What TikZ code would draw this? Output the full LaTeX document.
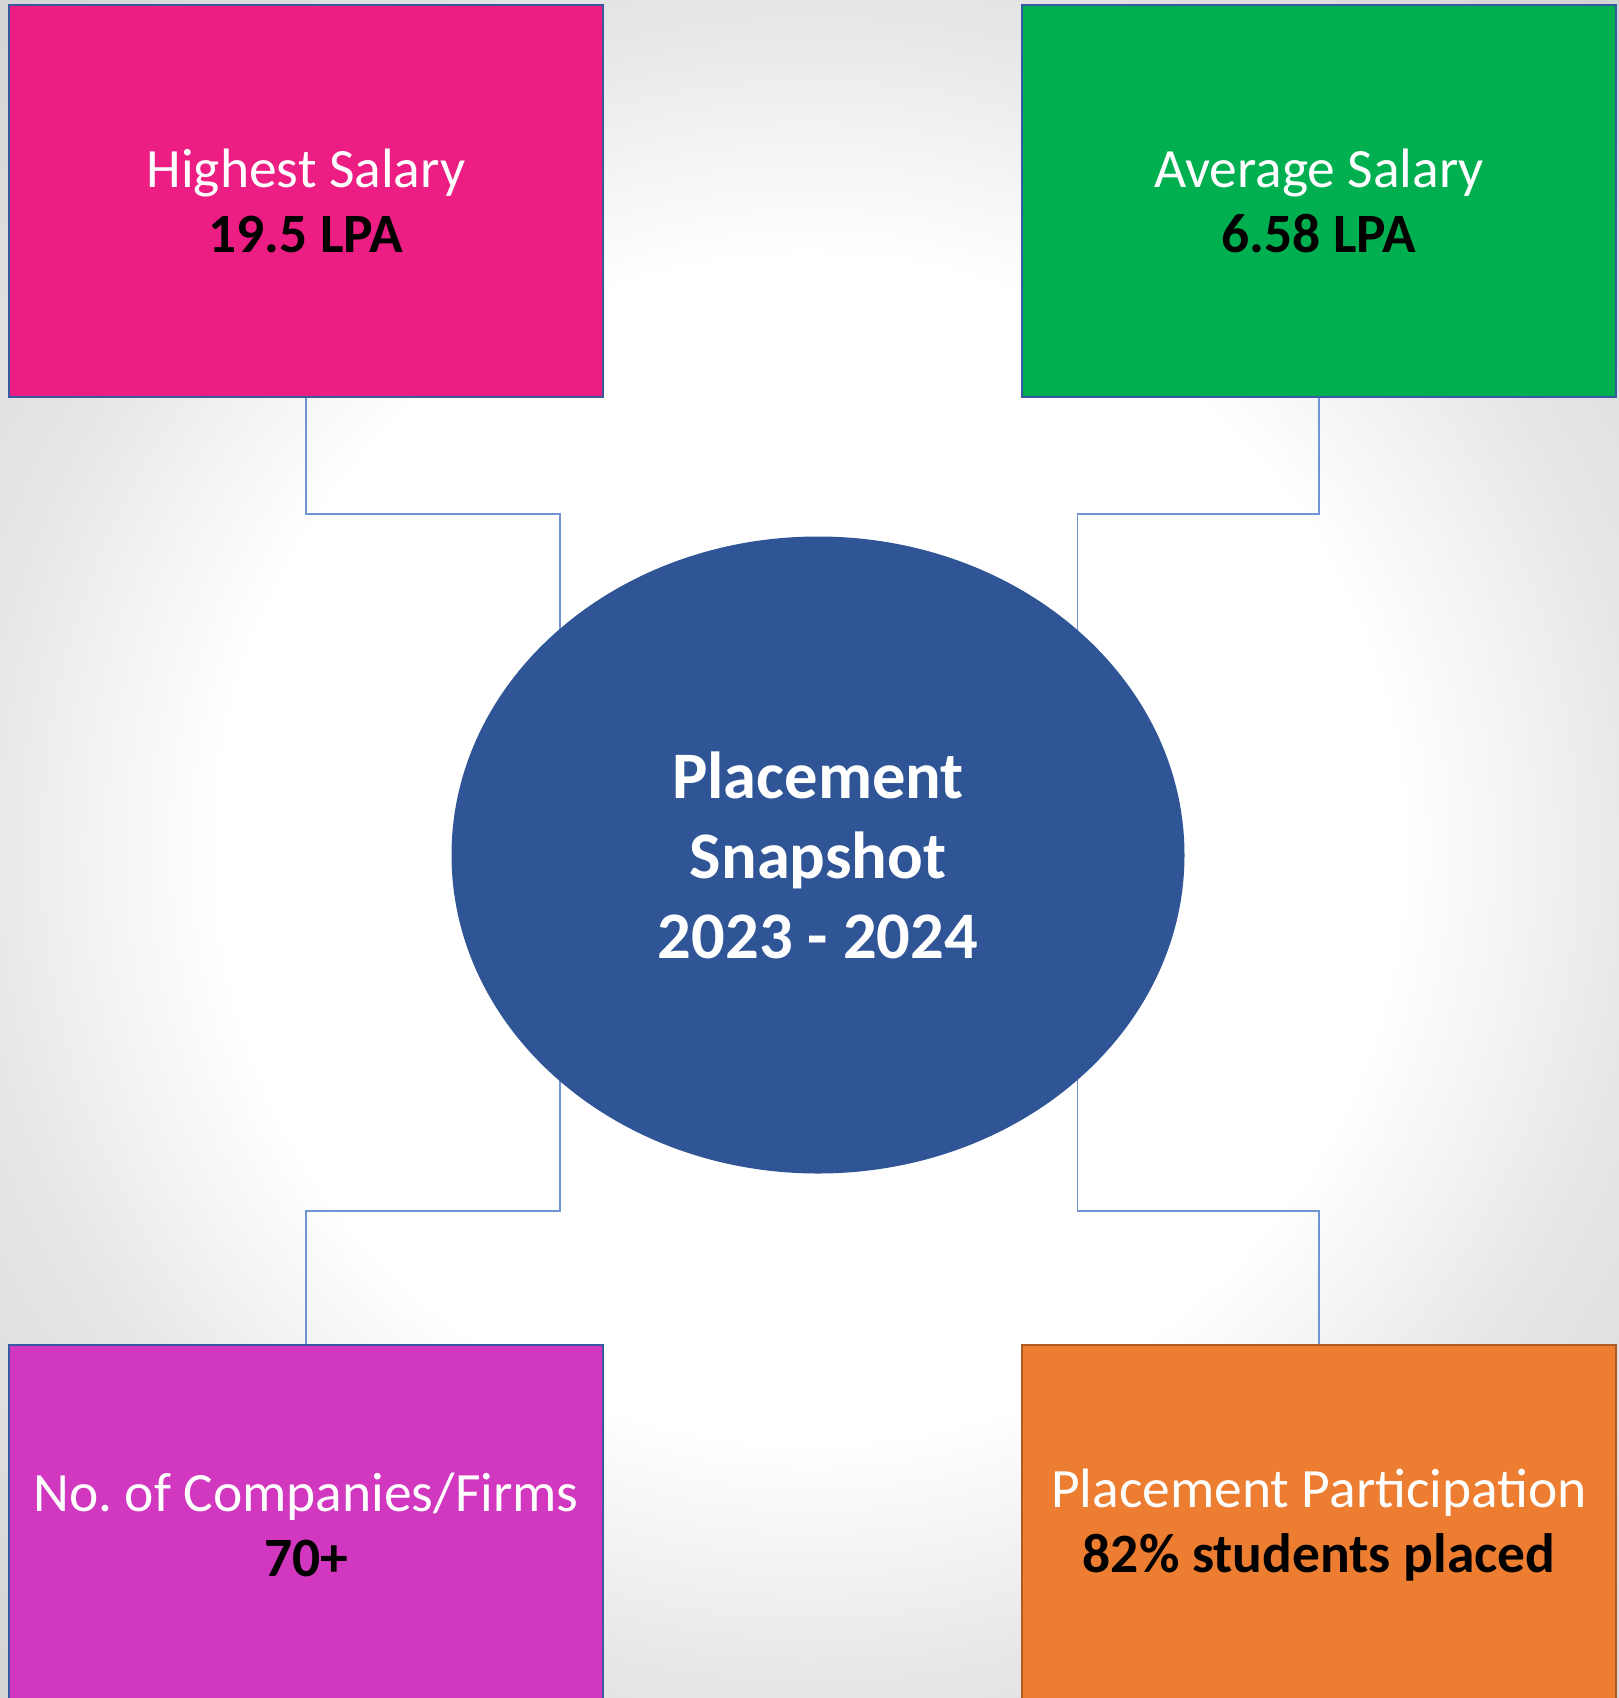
\documentclass[tikz,border=0pt]{standalone}
\usepackage{fontspec}
\setmainfont{Carlito}
\usetikzlibrary{shapes.geometric, positioning}
\definecolor{hubfill}{RGB}{47, 85, 151}
\definecolor{pinkfill}{RGB}{236, 30, 132}
\definecolor{greenfill}{RGB}{0, 176, 80}
\definecolor{purplefill}{RGB}{209, 56, 191}
\definecolor{orangefill}{RGB}{237, 125, 49}
\definecolor{boxedge}{RGB}{57, 90, 160}
\definecolor{orangeedge}{RGB}{174, 90, 33}
\definecolor{linkcolour}{RGB}{112, 148, 212}
\pgfdeclareradialshading{backglow}{\pgfpoint{0bp}{0bp}}{color(0bp)=(white);
    color(590bp)=(white); color(845bp)=(black!10); color(1180bp)=(black!17)}
\tikzset{
    statbox/.style={draw=boxedge, line width=2pt, minimum width=594pt,
        minimum height=392pt, inner sep=0pt, text=white, align=center,
        font=\fontsize{55.5}{65}\selectfont},
    lowbox/.style={statbox, anchor=north, minimum height=360pt},
    hub/.style={ellipse, fill=hubfill, minimum width=733pt,
        minimum height=637pt, inner sep=0pt, text=white, align=center,
        font=\fontsize{66.5}{80}\selectfont\bfseries},
    link/.style={draw=linkcolour, line width=1.7pt},
}
\newcommand{\statvalue}[1]{\textcolor{black}{\bfseries #1}}

\begin{document}
\begin{tikzpicture}[x=1pt, y=-1pt]
        \path[use as bounding box] (0, 0) rectangle (1619, 1698);
        \clip (0, 0) rectangle (1619, 1698);
        \node[inner sep=0pt] (backdrop) at (809.5, 849) {\pgfuseshading{backglow}};

        \node[statbox, fill=pinkfill] (highest) at (306, 201)
            {Highest Salary\\ \statvalue{19.5 LPA}};
        \node[statbox, fill=greenfill] (average) at (1319, 201)
            {Average Salary\\ \statvalue{6.58 LPA}};
        \node[lowbox, fill=purplefill] (companies) at (306, 1344)
            {No.\ of Companies/Firms\\ \statvalue{70+}};
        \node[lowbox, fill=orangefill, draw=orangeedge] (participation)
            at (1319, 1344) {Placement Participation\\
            \statvalue{82\% students placed}};

        \coordinate (hubc) at (818, 855);
        \coordinate (tlbend) at (560, 514);
        \coordinate (trbend) at (1077.5, 514);
        \coordinate (blbend) at (560, 1211);
        \coordinate (brbend) at (1077.5, 1211);
        \draw[link] (highest.south) |- (tlbend) -- (tlbend |- hubc);
        \draw[link] (average.south) |- (trbend) -- (trbend |- hubc);
        \draw[link] (companies.north) |- (blbend) -- (blbend |- hubc);
        \draw[link] (participation.north) |- (brbend) -- (brbend |- hubc);

        \node[hub] (snapshot) at (hubc) {Placement\\ Snapshot\\ 2023 - 2024};
    \end{tikzpicture}
\end{document}
